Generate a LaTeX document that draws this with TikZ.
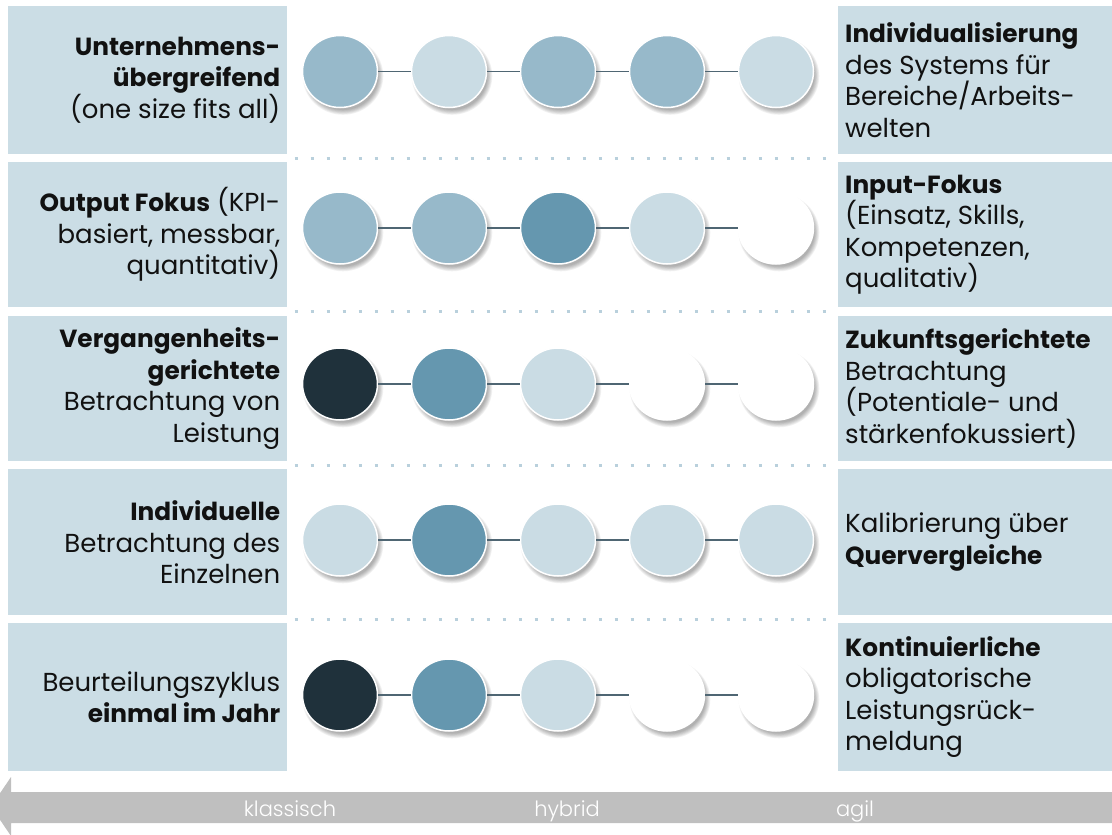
\documentclass[tikz,border=0pt]{standalone}
\usepackage{fontspec}
\setmainfont{Poppins}
\newfontfamily\lightfont{Poppins Light}
\usetikzlibrary{shapes.geometric}
\definecolor{boxfill}{HTML}{CBDDE5}
\definecolor{lite}{HTML}{CADCE4}
\definecolor{mid}{HTML}{97B9CA}
\definecolor{deep}{HTML}{6597AF}
\definecolor{night}{HTML}{1F313B}
\definecolor{blank}{HTML}{FFFFFF}
\definecolor{linkc}{HTML}{4F6673}
\definecolor{dotc}{HTML}{B9D0DC}
\definecolor{arrowc}{HTML}{BFBFBF}
\definecolor{ink}{HTML}{111111}
% bold key words are set a little smaller than the running text
\newcommand{\kw}[1]{{\fontsize{24.8}{31.5}\selectfont\bfseries #1}}
\begin{document}
\begin{tikzpicture}[x=1pt,y=-1pt,
  panel/.style={rectangle, fill=boxfill, inner sep=0pt, minimum width=#1, anchor=north west},
  ltext/.style={anchor=east, align=right, inner sep=0pt, text=ink,
    font=\fontsize{26}{31.5}\selectfont},
  rtext/.style={anchor=west, align=left, inner sep=0pt, text=ink,
    font=\fontsize{26}{31.5}\selectfont},
  dot/.style={ellipse, draw=white, line width=1.5pt, inner sep=0pt,
    minimum width=75pt, minimum height=72pt},
  link/.style={draw=linkc, line width=1.5pt},
  sep/.style={draw=dotc, line width=3pt, dash pattern=on 3pt off 13pt},
  scale label/.style={text=white, inner sep=0pt, anchor=base,
    font=\lightfont\fontsize{21}{26}\selectfont}
]
\useasboundingbox (0,0) rectangle (1112,835);
\clip (0,0) rectangle (1112,835);

% side panels
\foreach \t/\b [count=\i] in {6/154,162/307,316/461,469/615,623/771}{
  \node[panel=279pt, minimum height={(\b-\t)*1pt}] (L\i) at (8,\t) {};
  \node[panel=274pt, minimum height={(\b-\t)*1pt}] (R\i) at (838,\t) {};
}

% dotted separators between the rows
\foreach \y in {158.3,311.7,465,619}
  \draw[sep] (294.5,\y) -- (828,\y);

% rows of rating dots
\foreach \row/\cy/\cols in {
  1/71.5/{mid,lite,mid,mid,lite},
  2/228/{mid,mid,deep,lite,blank},
  3/384/{night,deep,lite,blank,blank},
  4/540/{lite,deep,lite,lite,lite},
  5/695/{night,deep,lite,blank,blank}}{
  \foreach \col [count=\k] in \cols {
    \pgfmathsetmacro{\cx}{340+109*(\k-1)}
    % soft shadow
    \foreach \s in {0,...,6}
      \fill[black, opacity=0.05] (\cx+3,\cy+4.5) ellipse [x radius=35.5+\s*0.8, y radius=34+\s*0.8];
    \node[dot, fill=\col] (c\row-\k) at (\cx,\cy) {};
  }
  \foreach \k [evaluate=\k as \n using int(\k+1)] in {1,...,4}
    \draw[link] (c\row-\k) -- (c\row-\n);
}

% texts on the left
\node[ltext] (t1l) at ([xshift=-7pt]L1.east) {\kw{Unternehmens-}\\\kw{übergreifend}\\(one size fits all)};
\node[ltext] (t2l) at ([xshift=-7pt]L2.east) {\kw{Output Fokus} (KPI-\\basiert, messbar,\\quantitativ)};
\node[ltext] (t3l) at ([xshift=-7pt]L3.east) {\kw{Vergangenheits-}\\\kw{gerichtete}\\Betrachtung von\\Leistung};
\node[ltext] (t4l) at ([xshift=-7pt]L4.east) {\kw{Individuelle}\\Betrachtung des\\Einzelnen};
\node[ltext] (t5l) at ([xshift=-7pt]L5.east) {Beurteilungszyklus\\\kw{einmal im Jahr}};

% texts on the right
\node[rtext] (t1r) at ([xshift=7pt]R1.west) {\kw{Individualisierung}\\des Systems für\\Bereiche/Arbeits-\\welten};
\node[rtext] (t2r) at ([xshift=7pt]R2.west) {\kw{Input-Fokus}\\(Einsatz, Skills,\\Kompetenzen,\\qualitativ)};
\node[rtext] (t3r) at ([xshift=7pt]R3.west) {\kw{Zukunftsgerichtete}\\Betrachtung\\(Potentiale- und\\stärkenfokussiert)};
\node[rtext] (t4r) at ([xshift=7pt]R4.west) {Kalibrierung über\\\kw{Quervergleiche}};
\node[rtext] (t5r) at ([xshift=7pt]R5.west) {\kw{Kontinuierliche}\\obligatorische\\Leistungsrück-\\meldung};

% scale arrow
\fill[arrowc] (1112,792) -- (11,792) -- (11,777) -- (-9,806.5) -- (11,836) -- (11,823) -- (1112,823) -- cycle;
\node[scale label] (k) at (290,816) {klassisch};
\node[scale label] (h) at (567,816) {hybrid};
\node[scale label] (a) at (855,816) {agil};
\end{tikzpicture}
\end{document}
